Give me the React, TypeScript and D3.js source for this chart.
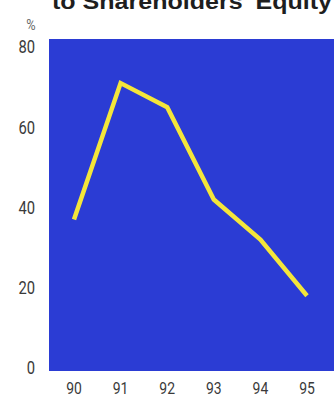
import React from "react";
import * as d3 from "d3";

const years = ["90", "91", "92", "93", "94", "95"];
const values = [37, 71, 65, 42, 32, 18];
const yTicks = [0, 20, 40, 60, 80];
const title = "to Shareholders' Equity";
const unit = "%";

export default function App() {
  const W = 334, H = 400;
  const x = d3.scalePoint<string>().domain(years).range([74, 307]);
  const y = d3.scaleLinear().domain([0, 80]).range([368, 47]);
  const line = d3
    .line<number>()
    .x((_, i) => x(years[i]) as number)
    .y((d) => y(d));
  const font = "'Roboto', 'Liberation Sans', sans-serif";
  return (
    <svg
      width={W}
      height={H}
      style={{ position: "absolute", left: 0, top: 0, background: "#fff" }}
    >
      <text
        x={52}
        y={9}
        fontFamily="'Liberation Sans', Arial, sans-serif"
        fontWeight="bold"
        fontSize={22}
        fill="#1e1e1e"
        textLength={280}
        lengthAdjust="spacingAndGlyphs"
      >
        {title}
      </text>
      <rect x={49} y={39} width={285} height={332} fill="#2b3cd4" />
      <text
        transform="translate(31,30) scale(0.85,1)"
        fontFamily={font}
        fontSize={15}
        fill="#666"
        textAnchor="middle"
      >
        {unit}
      </text>
      {yTicks.map((t) => (
        <text
          key={t}
          transform={`translate(35,${y(t)}) scale(0.82,1)`}
          dy="0.36em"
          textAnchor="end"
          fontFamily={font}
          fontSize={18}
          fill="#3a3a3a"
        >
          {t}
        </text>
      ))}
      {years.map((yr) => (
        <text
          key={yr}
          transform={`translate(${x(yr) as number},394) scale(0.82,1)`}
          textAnchor="middle"
          fontFamily={font}
          fontSize={17}
          fill="#3a3a3a"
        >
          {yr}
        </text>
      ))}
      <path
        d={line(values) || ""}
        fill="none"
        stroke="#f4e63a"
        strokeWidth={4.5}
        strokeLinejoin="miter"
      />
    </svg>
  );
}
